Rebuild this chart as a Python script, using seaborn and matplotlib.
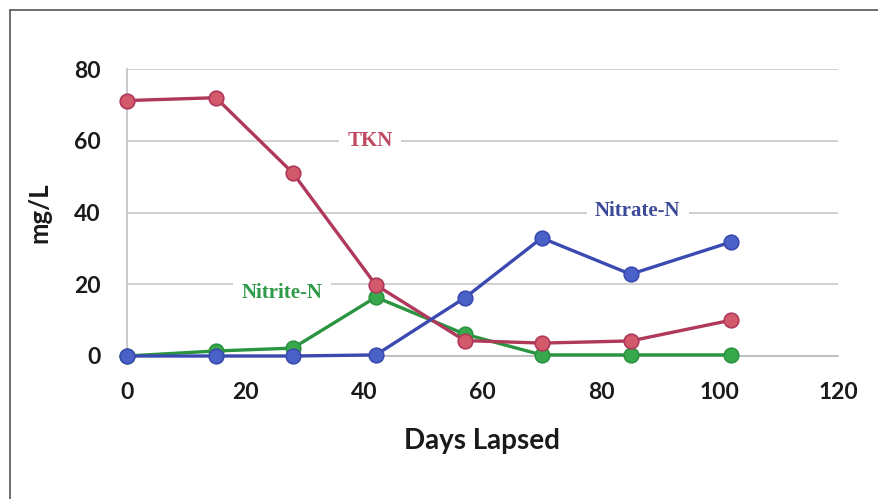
import matplotlib
matplotlib.use("Agg")
import matplotlib.pyplot as plt
import seaborn as sns
import pandas as pd
from matplotlib.lines import Line2D

days = [0, 15, 28, 42, 57, 70, 85, 102]
tkn = [71.2, 72.0, 51.0, 19.8, 4.3, 3.6, 4.2, 10.0]
nitrate = [0.0, 0.0, 0.0, 0.3, 16.2, 32.9, 22.8, 31.8]
nitrite = [0.0, 1.4, 2.2, 16.4, 6.1, 0.3, 0.3, 0.3]
series_names = ["TKN", "Nitrate-N", "Nitrite-N"]
x_ticks = [0, 20, 40, 60, 80, 100, 120]
y_ticks = [0, 20, 40, 60, 80]

df = pd.DataFrame({
    "Days": days * 3,
    "Value": tkn + nitrate + nitrite,
    "Series": [series_names[0]] * len(days) + [series_names[1]] * len(days) + [series_names[2]] * len(days),
})

line_colors = {"TKN": "#b0385a", "Nitrate-N": "#3a4ab0", "Nitrite-N": "#2a9440"}
marker_colors = {"TKN": "#d35a6a", "Nitrate-N": "#4a62c8", "Nitrite-N": "#38a84c"}
label_colors = {"TKN": "#c04a62", "Nitrate-N": "#3c4a98", "Nitrite-N": "#2f9a48"}

sns.set_style("white")
plt.rcParams['font.family'] = ['Lato', 'DejaVu Sans']

fig = plt.figure(figsize=(8.79, 4.99), dpi=100)
ax = fig.add_axes([127/879, 1 - 356/499, (838 - 127)/879, (356 - 69)/499])

for z, name in enumerate(["Nitrite-N", "TKN", "Nitrate-N"]):
    sub = df[df["Series"] == name]
    sns.lineplot(data=sub, x="Days", y="Value", ax=ax, color=line_colors[name],
                 linewidth=2.4, marker="o", markersize=10.5,
                 markerfacecolor=marker_colors[name], markeredgecolor=line_colors[name],
                 markeredgewidth=1.2, legend=False, zorder=3 + z, clip_on=False)

ax.set_xlim(0, 120)
ax.set_ylim(0, 80)
ax.set_xticks(x_ticks)
ax.set_yticks(y_ticks)
ax.set_xticklabels([str(t) for t in x_ticks], fontsize=16.5, fontweight="bold", color="#1a1a1a")
ax.set_yticklabels([str(t) for t in y_ticks], fontsize=16.5, fontweight="bold", color="#1a1a1a")
ax.set_xlabel("Days Lapsed", fontsize=20, fontweight="bold", color="#1a1a1a", labelpad=18)
ax.set_ylabel("mg/L", fontsize=18.5, fontweight="bold", color="#1a1a1a", labelpad=16)

ax.grid(axis="y", color="#c8c8c8", linewidth=1.2)
ax.grid(axis="x", visible=False)
ax.set_axisbelow(True)
for s in ["top", "right"]:
    ax.spines[s].set_visible(False)
ax.spines["left"].set_color("#c0c0c0")
ax.spines["bottom"].set_color("#b8b8b8")
ax.spines["left"].set_linewidth(1.2)
ax.spines["bottom"].set_linewidth(1.2)
ax.tick_params(axis="y", length=7, color="#c8c8c8", width=1.2, pad=12)
ax.tick_params(axis="x", length=5, color="#c0c0c0", width=1.0, pad=14)
ax.set_facecolor("none")

box = dict(facecolor="white", edgecolor="none", pad=6)
ax.text(41, 60, "TKN", color=label_colors["TKN"], fontsize=15, fontweight="bold",
        family=["Liberation Serif"], ha="center", va="center", bbox=box, zorder=8)
ax.text(86.2, 40.5, "Nitrate-N", color=label_colors["Nitrate-N"], fontsize=15, fontweight="bold",
        family=["Liberation Serif"], ha="center", va="center", bbox=box, zorder=8)
ax.text(26.2, 17.5, "Nitrite-N", color=label_colors["Nitrite-N"], fontsize=15, fontweight="bold",
        family=["Liberation Serif"], ha="center", va="center", bbox=box, zorder=2)

# outer frame (top and left edges)
fig.add_artist(Line2D([10/879, 1.0], [1 - 10/499, 1 - 10/499], color="#555555", linewidth=1.2,
                      transform=fig.transFigure))
fig.add_artist(Line2D([10/879, 10/879], [0.0, 1 - 10/499], color="#555555", linewidth=1.2,
                      transform=fig.transFigure))

fig.savefig("out.png", dpi=100)
